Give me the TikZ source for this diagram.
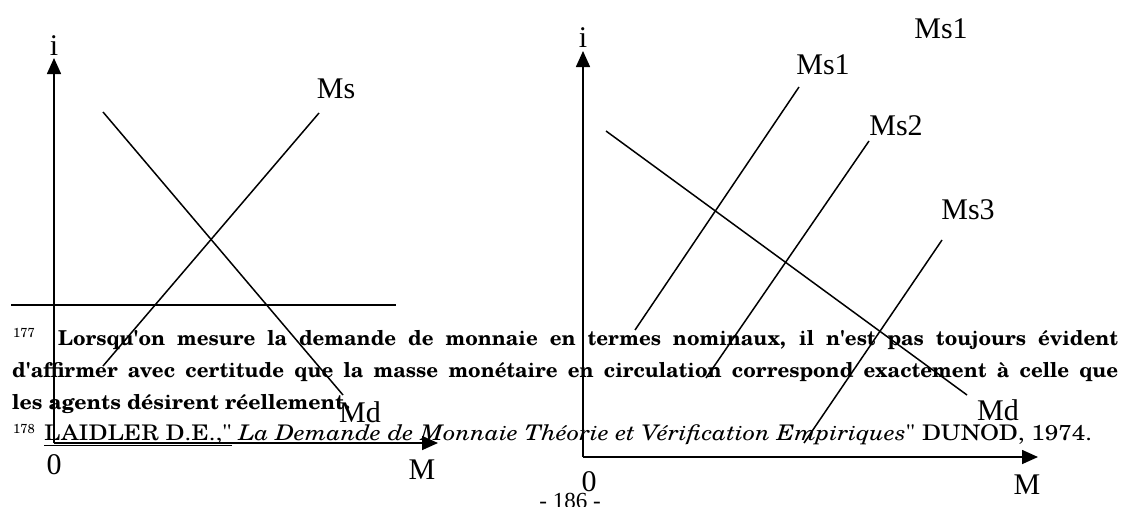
\documentclass[tikz,border=0pt]{standalone}
\usepackage{graphicx}
\usepackage{fontspec}
\setmainfont{Liberation Serif}
\newfontfamily\fnreg{texgyreschola}[Extension=.otf,UprightFont=*-regular,BoldFont=*-bold,ItalicFont=*-italic,BoldItalicFont=*-bolditalic,Ligatures=TeXOff]
\usetikzlibrary{arrows.meta}
\begin{document}
\begin{tikzpicture}[x=1pt,y=-1pt,
  axis/.style={line width=1.6pt,-{Triangle[length=16pt,width=14pt]}},
  curve/.style={line width=1.5pt},
  lbl/.style={font=\fontsize{30}{30}\selectfont,inner sep=0pt},
  fnline/.style={anchor=base west,inner sep=0pt,font=\fnreg\bfseries\fontsize{20.5}{24}\selectfont},
  fnref/.style={anchor=base west,inner sep=0pt,font=\fnreg\fontsize{21.5}{24}\selectfont},
  supnum/.style={anchor=base west,inner sep=0pt,font=\fnreg\fontsize{13}{14}\selectfont},
  pagenum/.style={anchor=base,inner sep=0pt,font=\fontsize{23}{24}\selectfont}]
\useasboundingbox (0,0) rectangle (1131,506);

% ---------- left diagram ----------
\coordinate (LO) at (54,443);
\coordinate (LYtop) at (54,58);
\coordinate (LXend) at (438,443);
\draw[axis] (LO) -- (LYtop);
\draw[axis] (LO) -- (LXend);
\node[lbl] (Li) at (54,46) {i};
\node[lbl] (L0) at (54,465) {0};
\node[lbl] (LM) at (422,470) {M};
\coordinate (LMdA) at (103,112);
\coordinate (LMdB) at (343,395);
\coordinate (LMsA) at (103,366);
\coordinate (LMsB) at (319,113);
\draw[curve] (LMdA) -- (LMdB);
\draw[curve] (LMsA) -- (LMsB);
\node[lbl] (LMs) at (336,89) {Ms};
\node[lbl] (LMd) at (360,412) {Md};
\coordinate (HA) at (11,305);
\coordinate (HB) at (396,305);
\draw[curve] (HA) -- (HB);

% ---------- right diagram ----------
\coordinate (RO) at (583,457);
\coordinate (RYtop) at (583,51);
\coordinate (RXend) at (1038,457);
\draw[axis] (RO) -- (RYtop);
\draw[axis] (RO) -- (RXend);
\node[lbl] (Ri) at (583,38) {i};
\node[lbl] (R0) at (589,482) {0};
\node[lbl] (RM) at (1027,485) {M};
\coordinate (RMdA) at (606,131);
\coordinate (RMdB) at (967,395);
\coordinate (S1A) at (635,330);
\coordinate (S1B) at (799,87);
\coordinate (S2A) at (706,378);
\coordinate (S2B) at (869,141);
\coordinate (S3A) at (804,443);
\coordinate (S3B) at (942,240);
\draw[curve] (RMdA) -- (RMdB);
\draw[curve] (S1A) -- (S1B);
\draw[curve] (S2A) -- (S2B);
\draw[curve] (S3A) -- (S3B);
\node[lbl] (RMs1) at (823,65) {Ms1};
\node[lbl] (RMs2) at (896,126) {Ms2};
\node[lbl] (RMs3) at (968,210) {Ms3};
\node[lbl] (RMs1top) at (941,29) {Ms1};
\node[lbl] (RMd) at (998,410) {Md};

% ---------- footnotes ----------
\node[supnum] (n177) at (13,337) {177};
\node[fnline] (f1) at (58,345) {\makebox[1060pt][s]{Lorsqu'on mesure la demande de monnaie en termes nominaux, il n'est pas toujours évident}};
\node[fnline] (f2) at (12,377) {\makebox[1106pt][s]{d'affirmer avec certitude que la masse monétaire en circulation correspond exactement à celle que}};
\node[fnline] (f3) at (12,409) {\resizebox{338pt}{\height}{les agents désirent réellement.}};
\node[supnum] (n178) at (13,433) {178};
\node[fnref] (f4) at (44,440) {\resizebox{1048pt}{\height}{\underline{LAIDLER D.E.,"} \textit{La Demande de Monnaie Théorie et Vérification Empiriques}" DUNOD, 1974.}};
\node[pagenum] (pg) at (570,508) {- 186 -};
\end{tikzpicture}
\end{document}
